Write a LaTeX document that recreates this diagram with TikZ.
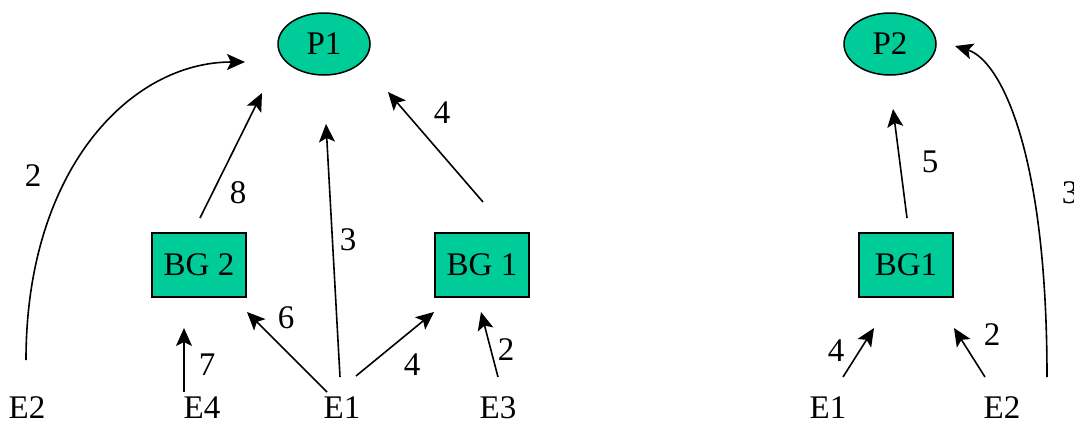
\documentclass[tikz,border=0pt]{standalone}
\usepackage{fontspec}
\setmainfont{Liberation Serif}
\usetikzlibrary{shapes.geometric,arrows.meta}
\definecolor{gfill}{RGB}{0,204,153}
\begin{document}
\begin{tikzpicture}[x=1pt,y=-1pt,
  every node/.style={font=\fontsize{33}{38}\selectfont, inner sep=0pt},
  pnode/.style={ellipse, draw, line width=1.5pt, fill=gfill, minimum width=92pt, minimum height=62pt},
  bgbox/.style={rectangle, draw, line width=1.5pt, fill=gfill, minimum width=94pt, minimum height=64pt},
  arr/.style={line width=1.6pt, -{Stealth[length=18pt,width=16pt,inset=4pt]}},
  lbl/.style={}]
\useasboundingbox (0,0) rectangle (1074,424);
% main nodes
\node[pnode] (P1) at (324,44) {P1};
\node[pnode] (P2) at (890,44) {P2};
\node[bgbox] (BG2) at (199,265) {BG 2};
\node[bgbox] (BGa) at (482,265) {BG 1};
\node[bgbox] (BGb) at (906,265) {BG1};
% bottom labels
\node (E2a) at (27,408) {E2};
\node (E4) at (202,408) {E4};
\node (E1a) at (342,408) {E1};
\node (E3) at (498,408) {E3};
\node (E1b) at (828,408) {E1};
\node (E2b) at (1002,408) {E2};
% connector end points
\coordinate (c1s) at (26,360);   \coordinate (c1e) at (245,62);
\coordinate (c2s) at (200,218);  \coordinate (c2e) at (262,93);
\coordinate (c3s) at (340,377);  \coordinate (c3e) at (326,124);
\coordinate (c4s) at (483,202);  \coordinate (c4e) at (388,92);
\coordinate (c5s) at (327,392);  \coordinate (c5e) at (247,312);
\coordinate (c6s) at (184,392);  \coordinate (c6e) at (184,328);
\coordinate (c7s) at (356,376);  \coordinate (c7e) at (434,312);
\coordinate (c8s) at (498,377);  \coordinate (c8e) at (481,312);
\coordinate (c9s) at (907,218);  \coordinate (c9e) at (893,109);
\coordinate (c10s) at (843,377); \coordinate (c10e) at (874,328);
\coordinate (c11s) at (985,377); \coordinate (c11e) at (954,328);
\coordinate (c12s) at (1047,377); \coordinate (c12e) at (955,46);
% connectors
\draw[arr] (c1s) .. controls (26,170) and (130,62) .. (c1e);
\draw[arr] (c2s) -- (c2e);
\draw[arr] (c3s) -- (c3e);
\draw[arr] (c4s) -- (c4e);
\draw[arr] (c5s) -- (c5e);
\draw[arr] (c6s) -- (c6e);
\draw[arr] (c7s) -- (c7e);
\draw[arr] (c8s) -- (c8e);
\draw[arr] (c9s) -- (c9e);
\draw[arr] (c10s) -- (c10e);
\draw[arr] (c11s) -- (c11e);
\draw[arr] (c12s) .. controls (1047,150) and (1000,60) .. (c12e);
% weights
\node[lbl] (w1) at (33,176) {2};
\node[lbl] (w2) at (238,193) {8};
\node[lbl] (w3) at (348,240) {3};
\node[lbl] (w4) at (442,113) {4};
\node[lbl] (w5) at (286,318) {6};
\node[lbl] (w6) at (207,365) {7};
\node[lbl] (w7) at (412,365) {4};
\node[lbl] (w8) at (506,350) {2};
\node[lbl] (w9) at (930,162) {5};
\node[lbl] (w10) at (836,351) {4};
\node[lbl] (w11) at (992,335) {2};
\node[lbl] (w12) at (1070,193) {3};
\end{tikzpicture}
\end{document}
